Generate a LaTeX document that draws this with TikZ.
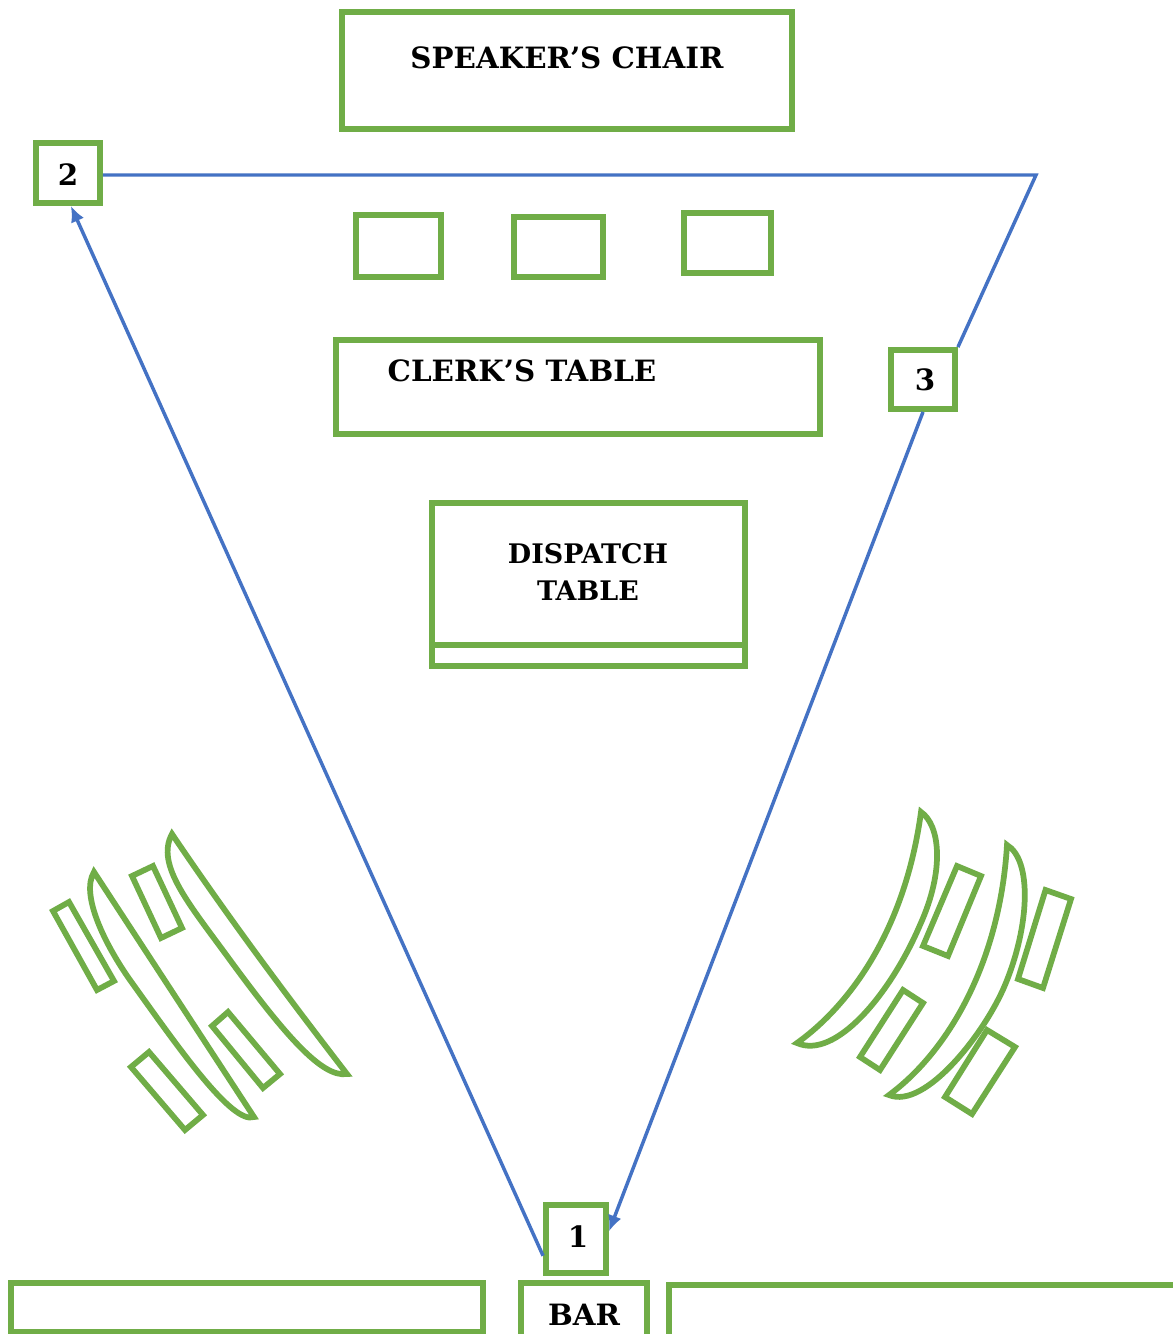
\documentclass[tikz,border=0pt]{standalone}
\usepackage{fontspec}
\setmainfont{DejaVu Serif}
\usetikzlibrary{arrows.meta}
\definecolor{grn}{HTML}{70AD47}
\definecolor{blu}{HTML}{4472C4}
\tikzset{
  box/.style={draw=grn,line width=4.4pt,inner sep=0pt},
  lbl/.style={inner sep=0pt,align=center,text=black,font=\bfseries\fontsize{22}{27.75}\selectfont},
  lblsmall/.style={lbl,font=\bfseries\fontsize{20.2}{27.75}\selectfont},
  seat/.style={draw=grn,line width=4.3pt,line join=miter},
  route/.style={draw=blu,line width=2.6pt},
  tip/.style={-{Latex[length=12pt,width=10.5pt]}}
}
\newcommand\bx[5]{\node[box,minimum width={(#4-#2)*.75pt},minimum height={(#5-#3)*.75pt}] (#1) at ({(#2+#4)/2},{(#3+#5)/2}) {};}
\begin{document}
\begin{tikzpicture}[x=.75pt,y=-.75pt]
\path[use as bounding box,fill=white] (0,0) rectangle (1173,1334);
\clip (0,0) rectangle (1173,1334);
% route
\coordinate (corner) at (1036,175);
% boxes
\bx{speaker}{342}{12}{792}{129}
\bx{two}{36}{143}{100}{203}
\bx{smalla}{356}{215}{441}{277}
\bx{smallb}{514}{217}{603}{277}
\bx{smallc}{684}{213}{771}{273}
\bx{clerk}{336}{340}{820}{434}
\bx{three}{891}{350}{955}{409}
\bx{dispatch}{432}{503}{745}{666}
\bx{one}{546}{1205}{606}{1273}
\bx{barleft}{11}{1283}{483}{1332}
\bx{bar}{521}{1283}{647}{1350}
\bx{barright}{669}{1285}{1190}{1350}
\coordinate (dl) at (432,645);
\coordinate (dr) at (745,645);
\draw[draw=grn,line width=4.4pt] (dl) -- (dr);
% labels
\node[lbl] (tspeaker) at (567,58) {SPEAKER’S CHAIR};
\node[lbl] (tclerk) at (522,371) {CLERK’S TABLE};
\node[lblsmall] (tdispatch) at (588,572) {DISPATCH\\TABLE};
\node[lbl] (tbar) at (584,1315) {BAR};
\node[lbl] (ttwo) at (68,175) {2};
\node[lbl] (tthree) at (925,380) {3};
\node[lbl] (tone) at (578,1237) {1};
\draw[route] (two.east |- corner) -- (corner) -- (three.north east);
\draw[route,tip] (three.south) -- (one.13);
\draw[route,tip] (one.207) -- (two.-85);
% left seats
\draw[seat] (172,834) .. controls (230,920) and (290,1000) .. (347,1074)
  .. controls (322,1078) and (285,1035) .. (230,960)
  .. controls (190,905) and (155,865) .. cycle;
\draw[seat] (94,872) -- (254,1117)
  .. controls (232,1125) and (178,1047) .. (130,980)
  .. controls (106,946) and (80,895) .. cycle;
\draw[seat] (53,911) -- (69,902) -- (114,981) -- (97,990) -- cycle;
\draw[seat] (132,876) -- (153,866) -- (182,928) -- (161,938) -- cycle;
\draw[seat] (212,1026) -- (228,1012) -- (280,1074) -- (263,1088) -- cycle;
\draw[seat] (131,1067) -- (149,1052) -- (203,1115) -- (185,1130) -- cycle;
% right seats
\draw[seat] (797,1043) .. controls (850,1005) and (905,930) .. (921,812)
  .. controls (940,825) and (945,870) .. (920,925)
  .. controls (890,995) and (835,1060) .. cycle;
\draw[seat] (889,1095) .. controls (950,1050) and (1000,960) .. (1007,845)
  .. controls (1032,860) and (1030,925) .. (1005,985)
  .. controls (985,1033) and (925,1110) .. cycle;
\draw[seat] (957,866) -- (981,876) -- (948,956) -- (923,946) -- cycle;
\draw[seat] (1045.5,890) -- (1071,899) -- (1043,988) -- (1018,979) -- cycle;
\draw[seat] (903,990) -- (923,1003) -- (880,1070) -- (860,1057) -- cycle;
\draw[seat] (987,1030) -- (1015,1047) -- (972,1114) -- (945,1097) -- cycle;
\end{tikzpicture}
\end{document}
